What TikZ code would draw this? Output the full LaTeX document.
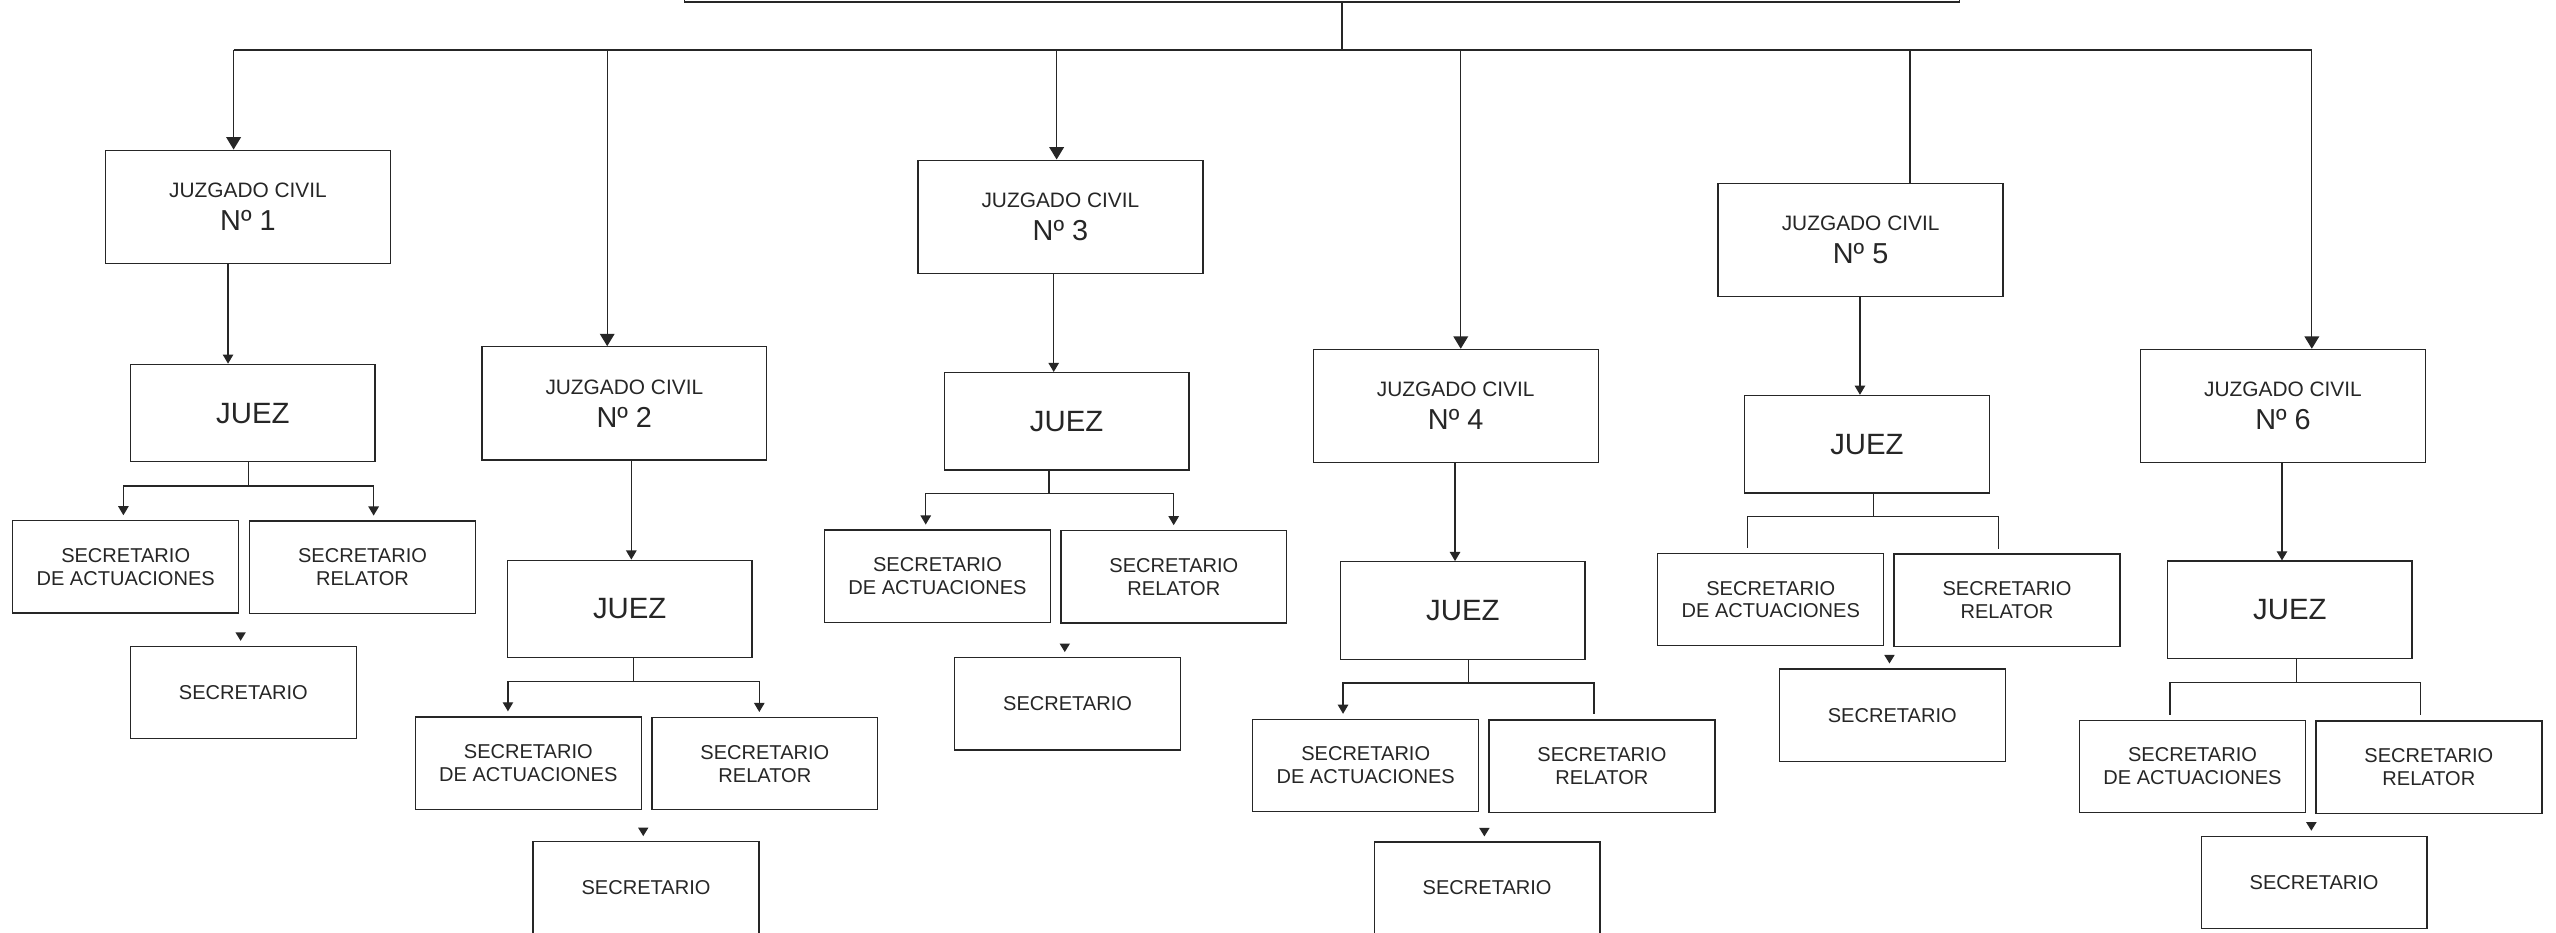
\documentclass[tikz,border=0pt]{standalone}
\usepackage{fontspec}
\setmainfont{Liberation Sans}
\usetikzlibrary{arrows.meta,calc}
\definecolor{ink}{HTML}{262626}
\begin{document}
\begin{tikzpicture}[x=1pt,y=-1pt,
  ln/.style={draw=ink, line width=0.8pt},
  boxbase/.style={draw=ink, line width=0.8pt, inner sep=0pt, align=center, text=ink},
  jbox/.style={boxbase, minimum width=174.8pt, minimum height=69.5pt, font=\fontsize{12.8}{20.3}\selectfont},
  zbox/.style={boxbase, minimum width=150pt, minimum height=59.8pt, font=\fontsize{18}{20}\selectfont},
  sbox/.style={boxbase, minimum width=138.6pt, minimum height=56.6pt, font=\fontsize{12.3}{14}\selectfont},
  bigarr/.style={ln, -{Triangle[width=9pt,length=7.6pt]}},
  smarr/.style={ln, -{Triangle[width=6.4pt,length=5.6pt]}},
  forkboth/.style={ln, {Triangle[width=6.4pt,length=5.6pt]}-{Triangle[width=6.4pt,length=5.6pt]}, shorten <=3pt, shorten >=3pt},
  forkleft/.style={ln, {Triangle[width=6.4pt,length=5.6pt]}-, shorten <=3pt, shorten >=3pt},
  forknone/.style={ln, shorten <=3pt, shorten >=3pt},
  lonetip/.style={fill=ink}
]
\useasboundingbox (0,0) rectangle (1568,572);
\clip (0,0) rectangle (1568,572);
\fill[white] (0,0) rectangle (1568,572);

% top box (mostly above the page)
\node[boxbase, minimum width=782.2pt, minimum height=80pt, anchor=south west] (top) at (419.6,1.6) {};

% Juzgados
\node[jbox] (J1) at (152.1,126.9) {JUZGADO CIVIL\\\fontsize{17.7}{20.3}\selectfont Nº 1};
\node[jbox] (J2) at (383.0,247.5) {JUZGADO CIVIL\\\fontsize{17.7}{20.3}\selectfont Nº 2};
\node[jbox] (J3) at (650.5,133.0) {JUZGADO CIVIL\\\fontsize{17.7}{20.3}\selectfont Nº 3};
\node[jbox] (J4) at (893.0,249.1) {JUZGADO CIVIL\\\fontsize{17.7}{20.3}\selectfont Nº 4};
\node[jbox] (J5) at (1141.4,147.3) {JUZGADO CIVIL\\\fontsize{17.7}{20.3}\selectfont Nº 5};
\node[jbox] (J6) at (1400.5,249.1) {JUZGADO CIVIL\\\fontsize{17.7}{20.3}\selectfont Nº 6};

% Jueces
\node[zbox] (Z1) at (155.1,253.4) {JUEZ};
\node[zbox] (Z2) at (386.3,373.6) {JUEZ};
\node[zbox] (Z3) at (654.3,258.5) {JUEZ};
\node[zbox] (Z4) at (897.4,374.5) {JUEZ};
\node[zbox] (Z5) at (1145.3,272.5) {JUEZ};
\node[zbox] (Z6) at (1404.7,374.1) {JUEZ};

% Secretarios
\node[sbox] (A1) at (77.1,347.8) {SECRETARIO\\DE ACTUACIONES};
\node[sbox] (R1) at (222.4,348.0) {SECRETARIO\\RELATOR};
\node[sbox] (S1) at (149.3,424.8) {SECRETARIO};
\node[sbox] (A2) at (324.1,468.1) {SECRETARIO\\DE ACTUACIONES};
\node[sbox] (R2) at (469.2,468.5) {SECRETARIO\\RELATOR};
\node[sbox] (S2) at (396.3,544.6) {SECRETARIO};
\node[sbox] (A3) at (575.1,353.5) {SECRETARIO\\DE ACTUACIONES};
\node[sbox] (R3) at (720.1,353.9) {SECRETARIO\\RELATOR};
\node[sbox] (S3) at (654.9,431.7) {SECRETARIO};
\node[sbox] (A4) at (837.8,469.6) {SECRETARIO\\DE ACTUACIONES};
\node[sbox] (R4) at (982.7,470.0) {SECRETARIO\\RELATOR};
\node[sbox] (S4) at (912.3,544.8) {SECRETARIO};
\node[sbox] (A5) at (1086.3,367.8) {SECRETARIO\\DE ACTUACIONES};
\node[sbox] (R5) at (1231.2,368.2) {SECRETARIO\\RELATOR};
\node[sbox] (S5) at (1160.8,438.7) {SECRETARIO};
\node[sbox] (A6) at (1345.0,470.2) {SECRETARIO\\DE ACTUACIONES};
\node[sbox] (R6) at (1490.0,470.6) {SECRETARIO\\RELATOR};
\node[sbox] (S6) at (1419.6,541.3) {SECRETARIO};

% bus from the top box
\coordinate (hub) at (823.3,30.7);
\coordinate (d1) at (143.3,30.7);
\coordinate (d2) at (372.5,30.7);
\coordinate (d3) at (648.2,30.7);
\coordinate (d4) at (896.1,30.7);
\coordinate (d5) at (1171.6,30.7);
\coordinate (d6) at (1418.2,30.7);
\draw[ln] (top.south -| hub) -- (hub);
\draw[ln] (d1) -- (d6);
\draw[bigarr] (d1) -- (d1 |- J1.north);
\draw[bigarr] (d2) -- (d2 |- J2.north);
\draw[bigarr] (d3) -- (d3 |- J3.north);
\draw[bigarr] (d4) -- (d4 |- J4.north);
\draw[ln]     (d5) -- (d5 |- J5.north);
\draw[bigarr] (d6) -- (d6 |- J6.north);

% Juzgado -> Juez
\coordinate (v1) at (139.9,0);
\coordinate (v2) at (387.3,0);
\coordinate (v3) at (646.4,0);
\coordinate (v4) at (892.6,0);
\coordinate (v5) at (1141.0,0);
\coordinate (v6) at (1399.9,0);
\foreach \i in {1,...,6}{
  \draw[smarr] (J\i.south -| v\i) -- (Z\i.north -| v\i);
}

% Juez -> secretarios (forks)
\coordinate (f1) at (152.5,298.2);  \coordinate (fa1) at (75.7,298.2);   \coordinate (fr1) at (229.2,298.2);
\coordinate (f2) at (388.7,418.2);  \coordinate (fa2) at (311.6,418.2);  \coordinate (fr2) at (465.8,418.2);
\coordinate (f3) at (643.6,302.9);  \coordinate (fa3) at (567.9,302.9);  \coordinate (fr3) at (720.0,302.9);
\coordinate (f4) at (900.8,418.9);  \coordinate (fa4) at (823.9,418.9);  \coordinate (fr4) at (977.9,418.9);
\coordinate (f5) at (1149.1,317.0); \coordinate (fa5) at (1072.1,317.0); \coordinate (fr5) at (1225.8,317.0);
\coordinate (f6) at (1408.8,418.6); \coordinate (fa6) at (1331.1,418.6); \coordinate (fr6) at (1484.8,418.6);
\foreach \i in {1,...,6}{
  \draw[ln] (Z\i.south -| f\i) -- (f\i);
}
\draw[forkboth] (A1.north -| fa1) -- (fa1) -- (fr1) -- (R1.north -| fr1);
\draw[forkboth] (A2.north -| fa2) -- (fa2) -- (fr2) -- (R2.north -| fr2);
\draw[forkboth] (A3.north -| fa3) -- (fa3) -- (fr3) -- (R3.north -| fr3);
\draw[forkleft] (A4.north -| fa4) -- (fa4) -- (fr4) -- (R4.north -| fr4);
\draw[forknone] (A5.north -| fa5) -- (fa5) -- (fr5) -- (R5.north -| fr5);
\draw[forknone] (A6.north -| fa6) -- (fa6) -- (fr6) -- (R6.north -| fr6);

% lone arrowheads above each SECRETARIO
\foreach \i in {1,...,6}{
  \fill[lonetip] ($(S\i.north)+(-1.7,-3)$) -- ++(-3.2,-5.2) -- ++(6.4,0) -- cycle;
}
\end{tikzpicture}
\end{document}
